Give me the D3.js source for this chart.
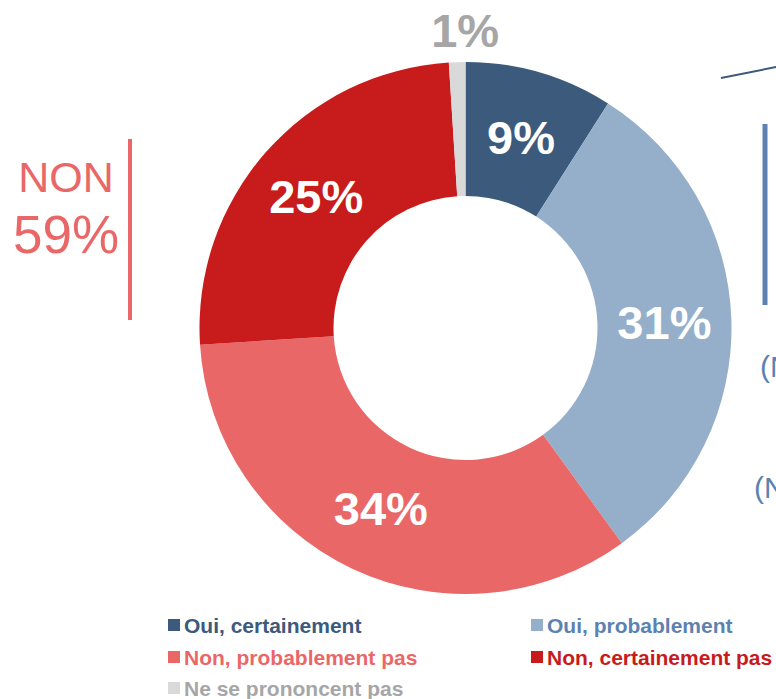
<!DOCTYPE html>
<html>
<head>
<meta charset="utf-8">
<script src="https://cdn.jsdelivr.net/npm/d3@7"></script>
<style>
  body { margin: 0; background: #fff; }
  svg { display: block; font-family: "Liberation Sans", Arial, sans-serif; }
</style>
</head>
<body>
<svg></svg>
<script>
let categories = ['Oui, certainement', 'Oui, probablement', 'Non, probablement pas', 'Non, certainement pas', 'Ne se prononcent pas']
let values = [9, 31, 34, 25, 1]
let colors = ['#3c5a7c', '#95afcb', '#ea6767', '#c81b1b', '#d9d9d9']
let textColors = ['#3c5a7c', '#5b82b0', '#ea6767', '#c81b1b', '#a6a6a6']
let labels = ['9%', '31%', '34%', '25%', '1%']

let width = 776
let height = 699
let cx = 465.5
let cy = 328
let outerR = 266
let innerR = 132

let svg = d3.select('svg')
    .attr('width', width)
    .attr('height', height)

let pie = d3.pie().sort(null).value(d => d)
let arcs = pie(values)

let arc = d3.arc().innerRadius(innerR).outerRadius(outerR)

let donut = svg.append('g')
    .attr('transform', `translate(${cx}, ${cy})`)

donut.selectAll('path')
    .data(arcs)
    .enter()
    .append('path')
    .attr('d', arc)
    .attr('fill', (d, i) => colors[i])

// label positions: inside the ring, except the tiny one goes outside
let outsideArc = d3.arc().innerRadius(outerR + 32).outerRadius(outerR + 32)

donut.selectAll('text.lbl')
    .data(arcs)
    .enter()
    .append('text')
    .attr('class', 'lbl')
    .attr('transform', (d, i) => {
        let c = i === 4 ? outsideArc.centroid(d) : arc.centroid(d)
        return `translate(${c[0]}, ${c[1]})`
    })
    .attr('text-anchor', 'middle')
    .attr('dx', (d, i) => i === 4 ? 9 : 0)
    .attr('dy', '0.36em')
    .attr('font-weight', 'bold')
    .attr('font-size', 47)
    .attr('fill', (d, i) => i === 4 ? '#a6a6a6' : '#fff')
    .text((d, i) => labels[i])

// NON 59% block on the left
svg.append('text')
    .attr('x', 66).attr('y', 192)
    .attr('text-anchor', 'middle')
    .attr('font-size', 43)
    .attr('fill', '#ea6767')
    .text('NON')
svg.append('text')
    .attr('x', 66).attr('y', 253)
    .attr('text-anchor', 'middle')
    .attr('font-size', 53)
    .attr('fill', '#ea6767')
    .text('59%')
svg.append('line')
    .attr('x1', 130).attr('x2', 130)
    .attr('y1', 139).attr('y2', 320)
    .attr('stroke', '#ea6767')
    .attr('stroke-width', 4)

// cut off OUI block on the right
svg.append('line')
    .attr('x1', 721).attr('y1', 78)
    .attr('x2', 776).attr('y2', 67)
    .attr('stroke', '#3c5a7c')
    .attr('stroke-width', 2)
svg.append('line')
    .attr('x1', 765).attr('x2', 765)
    .attr('y1', 124).attr('y2', 305)
    .attr('stroke', '#5b82b0')
    .attr('stroke-width', 5)
svg.append('text')
    .attr('x', 760).attr('y', 377)
    .attr('font-size', 30)
    .attr('fill', '#5b82b0')
    .text('(N')
svg.append('text')
    .attr('x', 754).attr('y', 498)
    .attr('font-size', 30)
    .attr('fill', '#5b82b0')
    .text('(N')

// legend
let legendX = [168, 531]
let legendY = [625, 657, 688]

let legend = svg.selectAll('g.legend')
    .data(categories)
    .enter()
    .append('g')
    .attr('class', 'legend')
    .attr('transform', (d, i) => `translate(${legendX[i % 2]}, ${legendY[Math.floor(i / 2)]})`)

legend.append('rect')
    .attr('x', 0).attr('y', -6)
    .attr('width', 12).attr('height', 12)
    .attr('fill', (d, i) => colors[i])

legend.append('text')
    .attr('x', 16)
    .attr('dy', '0.36em')
    .attr('font-weight', 'bold')
    .attr('font-size', 21)
    .attr('fill', (d, i) => textColors[i])
    .text(d => d)
</script>
</body>
</html>
